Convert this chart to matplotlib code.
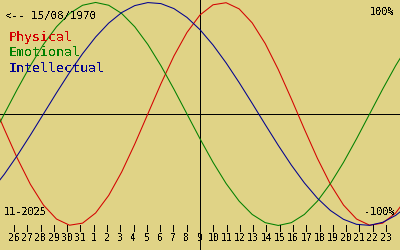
import matplotlib
matplotlib.use("Agg")
import matplotlib.pyplot as plt
import matplotlib.transforms as mtransforms

# Day offsets from today (9 Nov 2025), birth date 15/08/1970
days = list(range(-16, 17))

physical = [0.1362, -0.1362, -0.3984, -0.6311, -0.8170, -0.9423, -0.9977, -0.9791,
            -0.8879, -0.7308, -0.5196, -0.2698, 0.0, 0.2698, 0.5196, 0.7308,
            0.8879, 0.9791, 0.9977, 0.9423, 0.8170, 0.6311, 0.3984, 0.1362,
            -0.1362, -0.3984, -0.6311, -0.8170, -0.9423, -0.9977, -0.9791, -0.8879,
            -0.7308]
emotional = [-0.2225, 0.0, 0.2225, 0.4339, 0.6235, 0.7818, 0.9010, 0.9749,
             1.0, 0.9749, 0.9010, 0.7818, 0.6235, 0.4339, 0.2225, 0.0,
             -0.2225, -0.4339, -0.6235, -0.7818, -0.9010, -0.9749, -1.0, -0.9749,
             -0.9010, -0.7818, -0.6235, -0.4339, -0.2225, 0.0, 0.2225, 0.4339,
             0.6235]
intellectual = [-0.6901, -0.5406, -0.3717, -0.1893, 0.0, 0.1893, 0.3717, 0.5406,
                0.6901, 0.8146, 0.9096, 0.9718, 0.9989, 0.9898, 0.9450, 0.8660,
                0.7557, 0.6182, 0.4582, 0.2817, 0.0951, -0.0951, -0.2817, -0.4582,
                -0.6182, -0.7557, -0.8660, -0.9450, -0.9898, -0.9989, -0.9718, -0.9096,
                -0.8146]

# Tick labels: 26 Oct .. 23 Nov
tick_labels = ["26", "27", "28", "29", "30", "31"] + [str(n) for n in range(1, 24)]
tick_offsets = list(range(-14, 15))
tick_step = 1.018

bg = "#e0d386"
red = "#d40000"
green = "#008000"
blue = "#000090"

plt.rcParams["text.antialiased"] = False
mono = "DejaVu Sans Mono"
px = 0.72  # one pixel in points

fig = plt.figure(figsize=(4, 2.5), dpi=100)
fig.patch.set_facecolor(bg)
ax = fig.add_axes([0, 0, 1, 1])
ax.set_facecolor(bg)
ax.axis("off")
ax.set_xlim(-15.33, 15.33)
ax.set_ylim(-1.22, 1.022)

# Axes cross
ax.axhline(0, color="black", lw=px, antialiased=False)
ax.axvline(0, color="black", lw=px, antialiased=False)

# Curves
ax.plot(days, physical, color=red, lw=0.75)
ax.plot(days, emotional, color=green, lw=0.75)
ax.plot(days, intellectual, color=blue, lw=0.75)

# Day ticks
trans = mtransforms.blended_transform_factory(ax.transData, ax.transAxes)
for off, lab in zip(tick_offsets, tick_labels):
    x = off * tick_step
    ax.plot([x, x], [0.076, 0.1], color="black", lw=px, transform=trans, antialiased=False)
    ax.text(x, 0.048, lab, transform=trans, ha="center", va="center",
            fontsize=7.0, family=mono, color="black")

# Labels
def put(x, y, s, size, color="black", ha="left"):
    ax.text(x / 400, 1 - y / 250, s, transform=ax.transAxes, ha=ha, va="center",
            fontsize=size, family=mono, color=color)

put(5, 16, "<-- 15/08/1970", 7.8)
put(9, 38, "Physical", 9.5, red)
put(9, 53, "Emotional", 9.5, green)
put(9, 68, "Intellectual", 9.5, blue)
put(394, 12, "100%", 7.4, ha="right")
put(395, 212, "-100%", 7.4, ha="right")
put(4, 212, "11-2025", 7.4)

fig.savefig("out.png", dpi=100, facecolor=bg)
